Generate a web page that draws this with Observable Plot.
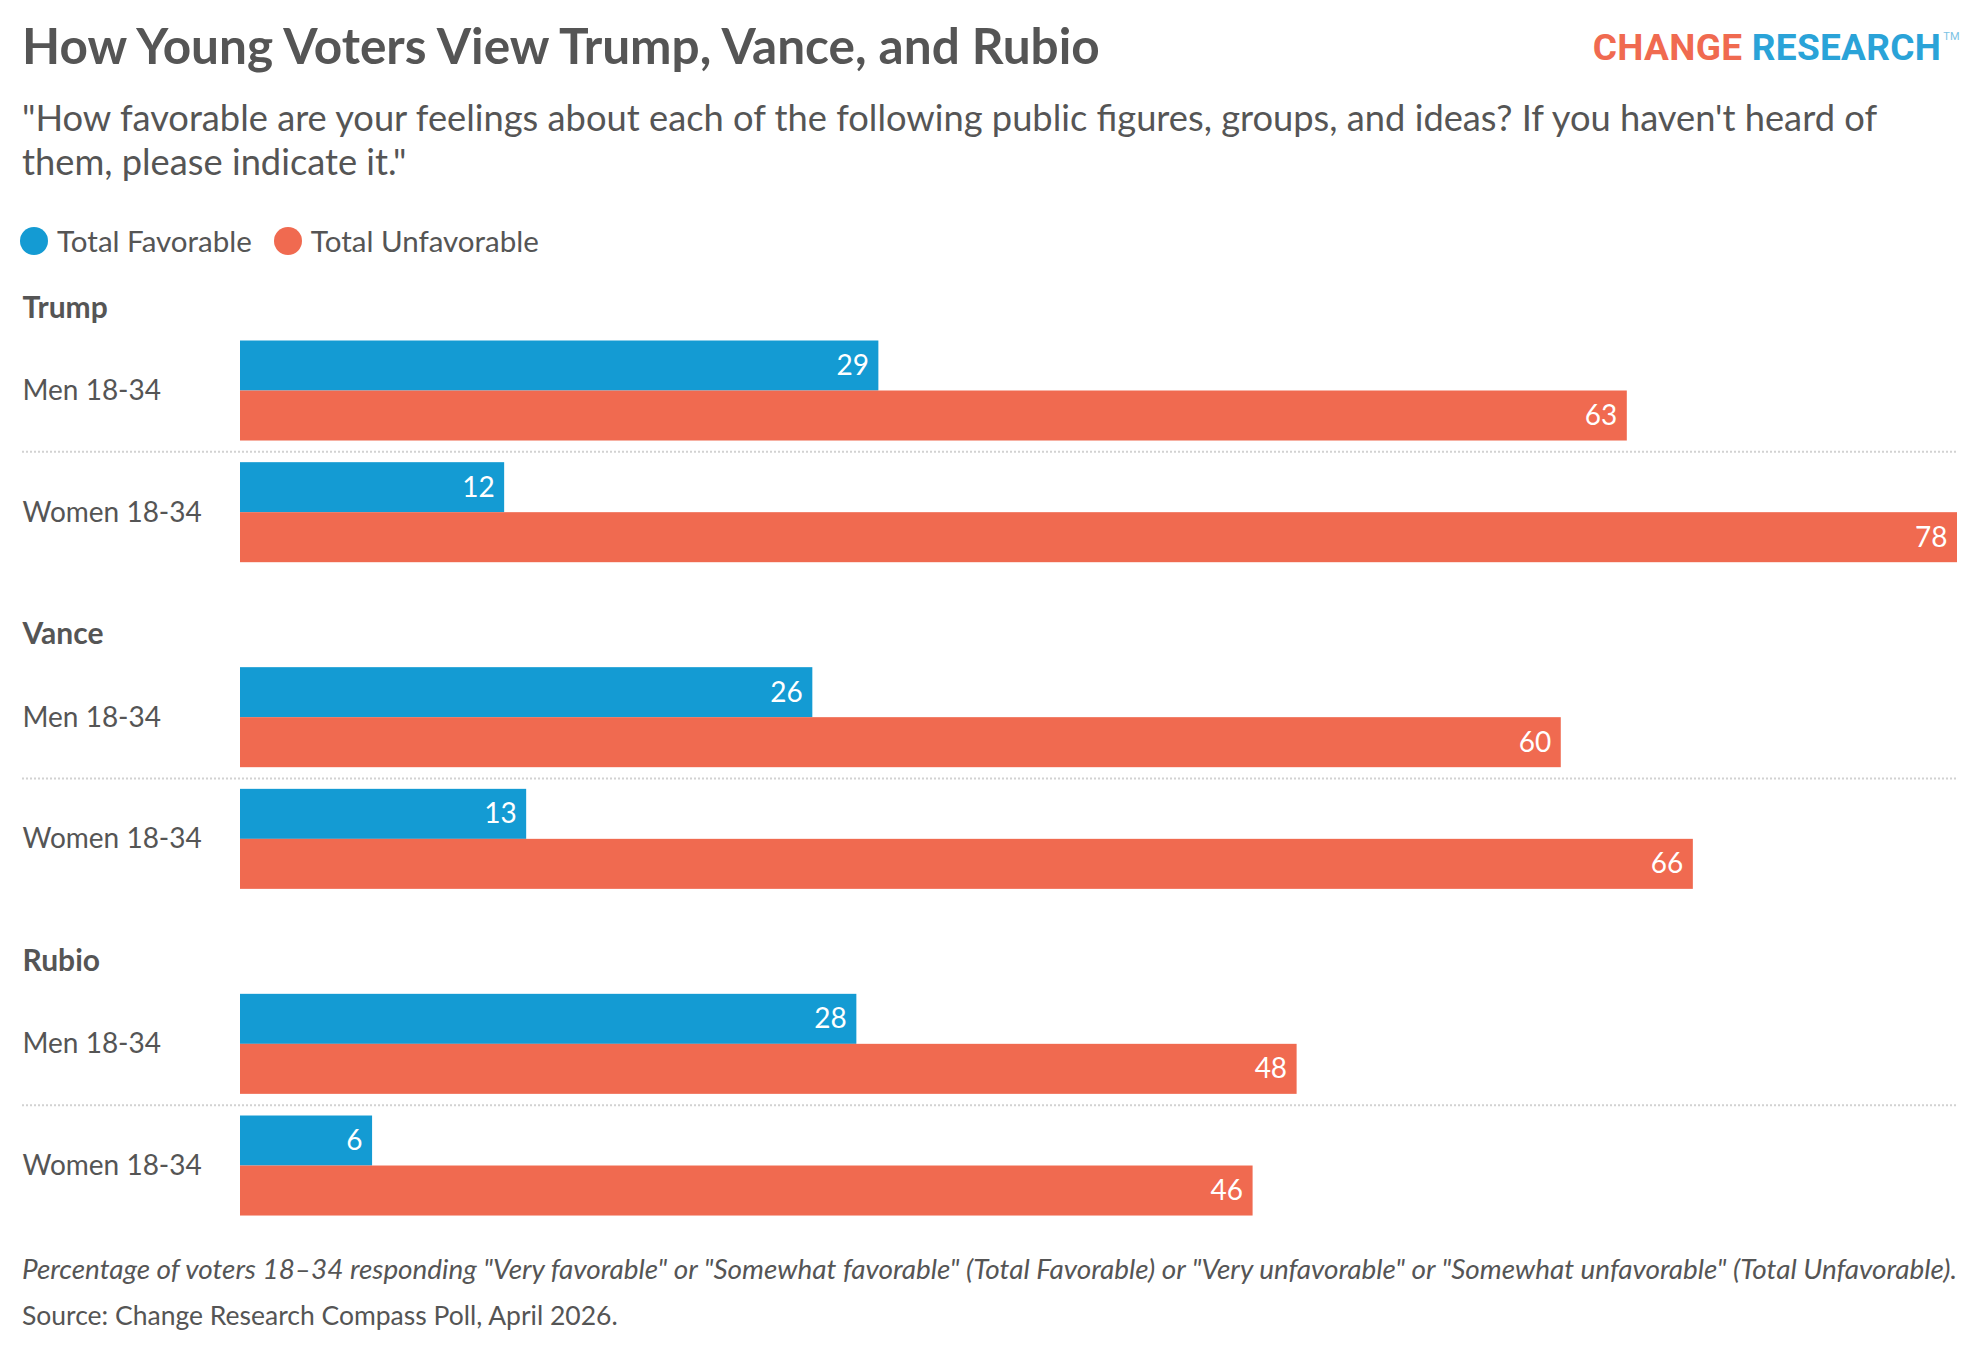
<!DOCTYPE html>
<html>
<head>
<meta charset="utf-8">
<script src="https://cdn.jsdelivr.net/npm/d3@7"></script>
<script src="https://cdn.jsdelivr.net/npm/@observablehq/plot@0.6"></script>
<style>
  html, body { margin: 0; padding: 0; background: #fff; }
  body { width: 1980px; height: 1356px; position: relative; font-family: Lato, "Open Sans", sans-serif; color: #555; }
  .abs { position: absolute; white-space: nowrap; line-height: 1; }
  #title { left: 22px; font-weight: 700; font-size: 46px; color: #555; }
  .sub { left: 22px; font-size: 33px; color: #555; }
  #logo { font-family: Roboto, sans-serif; font-weight: 700; font-size: 37px; letter-spacing: 0.3px; top: 29px; right: 20px; }
  #logo .tm { font-size: 11px; vertical-align: top; position: relative; top: 2px; color: #7cc3e4; font-weight: 400; margin-left: 2px; }
  #legend { left: 20px; top: 227px; display: flex; align-items: center; height: 28px; }
  .sw { width: 28px; height: 28px; border-radius: 50%; display: inline-block; flex: none; }
  .lab { font-size: 27px; margin-left: 9px; margin-right: 22px; line-height: 1; display: inline-block; }
  #chart { position: absolute; left: 0; top: 269px; }
  #note { left: 22px; font-style: italic; font-size: 24px; }
  #source { left: 22px; font-size: 24px; }
</style>
</head>
<body>
<div id="title" class="abs">How Young Voters View Trump, Vance, and Rubio</div>
<div id="logo" class="abs"><span style="color:#f06a50">CHANGE</span> <span style="color:#2aa3d8">RESEARCH</span><span class="tm">TM</span></div>
<div id="sub1" class="abs sub">"How favorable are your feelings about each of the following public figures, groups, and ideas? If you haven't heard of</div>
<div id="sub2" class="abs sub">them, please indicate it."</div>
<div id="legend" class="abs"></div>
<div id="chart"></div>
<div id="note" class="abs">Percentage of voters 18–34 responding "Very favorable" or "Somewhat favorable" (Total Favorable) or "Very unfavorable" or "Somewhat unfavorable" (Total Unfavorable).</div>
<div id="source" class="abs">Source: Change Research Compass Poll, April 2026.</div>
<script>
// ---- data ----
const candidates = ["Trump", "Vance", "Rubio"];
const groups = ["Men 18-34", "Women 18-34"];
const seriesNames = ["Total Favorable", "Total Unfavorable"];
const favorable = [29, 12, 26, 13, 28, 6];
const unfavorable = [63, 78, 60, 66, 48, 46];
const colors = ["#149bd3", "#f06a50"];

const rows = candidates.flatMap((c, i) => groups.map((g, j) => ({
  candidate: c, group: g, fav: favorable[i * 2 + j], unfav: unfavorable[i * 2 + j]
})));

// ---- helpers ----
function fitWidth(el, target) {
  const w = el.getBoundingClientRect().width;
  const f = parseFloat(getComputedStyle(el).fontSize);
  const nf = f * target / w;
  el.style.fontSize = nf + "px";
  return nf;
}
function placeBaseline(el, baseline) {
  const f = parseFloat(getComputedStyle(el).fontSize);
  el.style.top = (baseline - 0.887 * f) + "px";
}

// ---- legend ----
const legend = document.getElementById("legend");
const labs = [];
seriesNames.forEach((name, i) => {
  const sw = document.createElement("span");
  sw.className = "sw"; sw.style.background = colors[i];
  const lab = document.createElement("span");
  lab.className = "lab"; lab.textContent = name;
  legend.appendChild(sw); legend.appendChild(lab);
  labs.push(lab);
});
const lf = fitWidth(labs[0], 195);
labs[1].style.fontSize = lf + "px";

// ---- header / footer text ----
const title = document.getElementById("title");
fitWidth(title, 1078); placeBaseline(title, 65);
const s1 = document.getElementById("sub1"), s2 = document.getElementById("sub2");
const sf = fitWidth(s1, 1856); s2.style.fontSize = sf + "px";
placeBaseline(s1, 131); placeBaseline(s2, 175);
const note = document.getElementById("note");
fitWidth(note, 1936); placeBaseline(note, 1280);
const source = document.getElementById("source");
fitWidth(source, 596); placeBaseline(source, 1326);

// ---- chart ----
const half = 25;
const chart = Plot.plot({
  width: 1980,
  height: 980,
  marginLeft: 240,
  marginRight: 23,
  marginTop: 0,
  marginBottom: 0,
  style: { fontFamily: "Lato, 'Open Sans', sans-serif", color: "#555", background: "white" },
  x: { domain: [0, 78], axis: null },
  y: { domain: groups, axis: null, paddingInner: 0.178, paddingOuter: 0, insetTop: 71.5, insetBottom: 33.47, round: false },
  fy: { domain: candidates, axis: null, padding: 0, round: false },
  color: { domain: seriesNames, range: colors },
  marks: [
    Plot.ruleY(candidates, {
      fy: d => d, y: () => groups[1], dy: -60.85,
      insetLeft: -218, insetRight: 0,
      stroke: "#d2d2d2", strokeWidth: 2, strokeDasharray: "2,2"
    }),
    Plot.barX(rows, { fy: "candidate", y: "group", x: "fav", fill: () => seriesNames[0], insetBottom: 50 }),
    Plot.barX(rows, { fy: "candidate", y: "group", x: "unfav", fill: () => seriesNames[1], insetTop: 50 }),
    Plot.text(rows, { fy: "candidate", y: "group", x: "fav", text: d => String(d.fav), textAnchor: "end", dx: -10, dy: -half, fill: "white", fontSize: 28 }),
    Plot.text(rows, { fy: "candidate", y: "group", x: "unfav", text: d => String(d.unfav), textAnchor: "end", dx: -10, dy: half, fill: "white", fontSize: 28 }),
    Plot.text(rows, { fy: "candidate", y: "group", text: "group", frameAnchor: "left", textAnchor: "start", dx: -218, fontSize: 28, fill: "#555" }),
    Plot.text(candidates, { fy: d => d, y: () => groups[0], text: d => d, frameAnchor: "left", textAnchor: "start", dx: -218, dy: -83, fontSize: 30, fontWeight: "bold", fill: "#555" })
  ]
});
document.getElementById("chart").appendChild(chart);
</script>
</body>
</html>
